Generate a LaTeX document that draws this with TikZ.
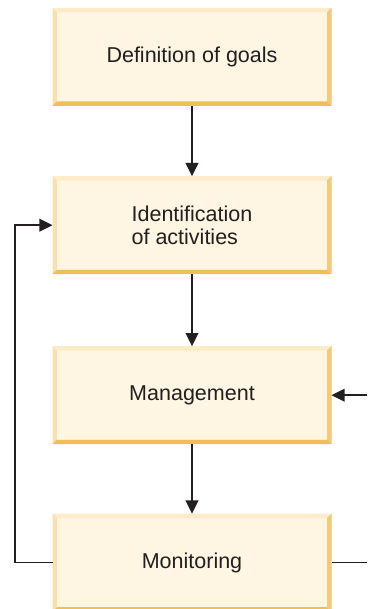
\documentclass[tikz,border=0pt]{standalone}
\usepackage{fontspec}
\newfontfamily\stagefont{Liberation Sans}
\usepackage{tikz}
\usetikzlibrary{arrows.meta,positioning,calc}

\definecolor{stagefill}{HTML}{FEF6E2}
\definecolor{bevtop}{HTML}{FDEBC9}
\definecolor{bevleft}{HTML}{FBDFAE}
\definecolor{bevright}{HTML}{F3C97B}
\definecolor{bevbottom}{HTML}{F0BF55}
\definecolor{flowline}{HTML}{231F20}
\newcommand{\bev}{0.11cm}

\begin{document}
\begin{tikzpicture}[->,>={Triangle[length=0.33cm,width=0.32cm]},line width=1.15pt,
		draw=flowline,node distance=1.76cm]
		\tikzstyle{stage}=[rectangle,fill=stagefill,inner sep=0pt,outer sep=0pt,
			minimum width=6.975cm,minimum height=2.45cm,align=left,
			text=flowline,font=\stagefont\fontsize{15.3}{16.7}\selectfont,
			path picture={
				\path (path picture bounding box.north west) coordinate (bnw)
					(path picture bounding box.south east) coordinate (bse);
				\fill[bevtop] (bnw) -- (bnw -| bse) -- ($(bnw -| bse)+(-\bev,-\bev)$)
					-- ($(bnw)+(\bev,-\bev)$) -- cycle;
				\fill[bevleft] (bnw) -- ($(bnw)+(\bev,-\bev)$) -- ($(bnw |- bse)+(\bev,\bev)$)
					-- (bnw |- bse) -- cycle;
				\fill[bevright] (bnw -| bse) -- (bse) -- ($(bse)+(-\bev,\bev)$)
					-- ($(bnw -| bse)+(-\bev,-\bev)$) -- cycle;
				\fill[bevbottom] (bnw |- bse) -- (bse) -- ($(bse)+(-\bev,\bev)$)
					-- ($(bnw |- bse)+(\bev,\bev)$) -- cycle;
			}]
		\useasboundingbox (0,0) rectangle (9.175,-15.225);
		
		\node[stage] (goals) at (4.8,-1.42) {Definition of goals};
		\node[stage] (activities) [below=of goals] {Identification\\of activities};
		\node[stage] (management) [below=1.8cm of activities] {Management};
		\node[stage] (monitoring) [below=1.735cm of management] {Monitoring};
		
		\coordinate (loopleft) at (0.375,0);
		\coordinate (rimright) at (9.175,0);
		
		\path[->]
		(goals) edge (activities)
		(activities) edge (management)
		(management) edge (monitoring);
		
		\draw[->] (monitoring.west) -- (monitoring.west -| loopleft)
			|- (activities.west);
		\draw[->] (management.east -| rimright) -- (management.east);
		\draw[-] (monitoring.east) -- (monitoring.east -| rimright);
		\end{tikzpicture}
\end{document}
